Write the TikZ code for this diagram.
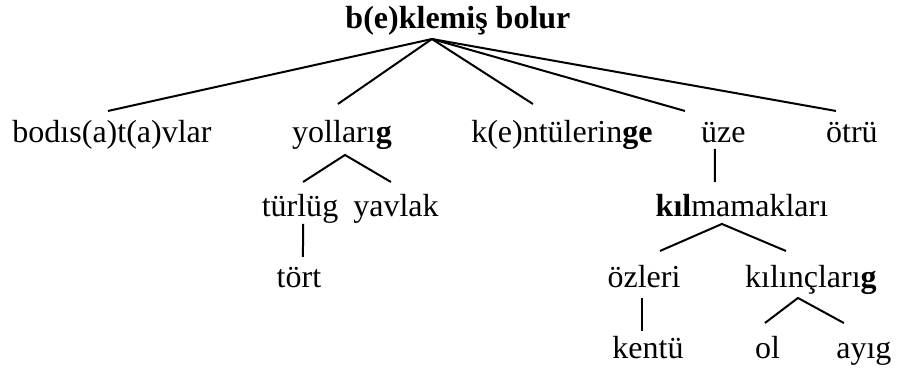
\documentclass[tikz,border=0pt]{standalone}
\usepackage{fontspec}
\setmainfont{Liberation Serif}
\usepackage{tikz}
\tikzset{
  word/.style={anchor=base,inner sep=0pt,font=\fontsize{12}{14}\selectfont},
  edge/.style={line width=0.75pt,black}
}

\begin{document}
\begin{tikzpicture}[x=1cm,y=1cm]
\useasboundingbox (0,0) rectangle (11.832,-4.928);
\node[word] (root) at (6.034,-0.382) {\textbf{b(e)klemiş bolur}};
\node[word] (bod) at (1.476,-1.884) {bodıs(a)t(a)vlar};
\node[word] (yol) at (4.506,-1.884) {yolları\textbf{g}};
\node[word] (ken) at (7.404,-1.884) {k(e)ntülerin\textbf{ge}};
\node[word] (uze) at (9.532,-1.884) {üze};
\node[word] (otru) at (11.225,-1.884) {ötrü};
\node[word] (turlug) at (3.953,-2.859) {türlüg};
\node[word] (yavlak) at (5.217,-2.859) {yavlak};
\node[word] (kil) at (9.776,-2.859) {\textbf{kıl}mamakları};
\node[word] (tort) at (3.939,-3.794) {tört};
\node[word] (ozleri) at (8.485,-3.794) {özleri};
\node[word] (kilinc) at (10.685,-3.794) {kılınçları\textbf{g}};
\node[word] (kentu) at (8.538,-4.730) {kentü};
\node[word] (ol) at (10.112,-4.730) {ol};
\node[word] (ayig) at (11.383,-4.730) {ayıg};
% top level
\draw[edge] ([shift={(-0.053,0.422)}]bod.base) -- ([shift={(-0.343,-0.132)}]root.base);
\draw[edge] ([shift={(-0.053,0.514)}]yol.base) -- ([shift={(-0.343,-0.132)}]root.base);
\draw[edge] ([shift={(-0.382,0.514)}]ken.base) -- ([shift={(-0.343,-0.132)}]root.base);
\draw[edge] ([shift={(-0.507,0.422)}]uze.base) -- ([shift={(-0.343,-0.132)}]root.base);
\draw[edge] ([shift={(-0.211,0.422)}]otru.base) -- ([shift={(-0.343,-0.132)}]root.base);
% second level
\draw[edge] ([shift={(0.040,0.461)}]turlug.base) -- ([shift={(0.040,-0.158)}]yol.base)
  -- ([shift={(-0.066,0.461)}]yavlak.base);
\draw[edge] ([shift={(-0.112,-0.079)}]uze.base) -- ([shift={(-0.356,0.461)}]kil.base);
\draw[edge] ([shift={(0.040,-0.092)}]turlug.base) -- ([shift={(0.053,0.408)}]tort.base);
\draw[edge] ([shift={(0.211,0.487)}]ozleri.base) -- ([shift={(-0.264,-0.092)}]kil.base)
  -- ([shift={(-0.329,0.487)}]kilinc.base);
% bottom level
\draw[edge] ([shift={(-0.026,-0.132)}]ozleri.base) -- ([shift={(-0.079,0.369)}]kentu.base);
\draw[edge] ([shift={(-0.033,0.474)}]ol.base) -- ([shift={(-0.171,-0.132)}]kilinc.base)
  -- ([shift={(-0.264,0.474)}]ayig.base);
\end{tikzpicture}
\end{document}
